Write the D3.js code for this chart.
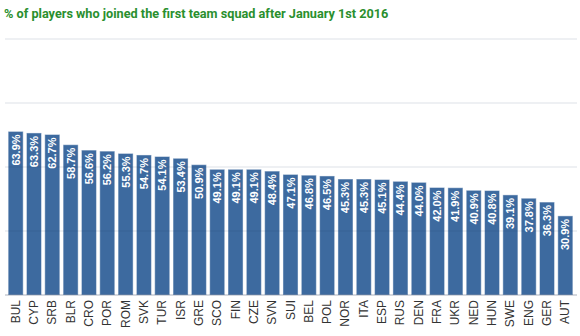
<!DOCTYPE html>
<html>
<head>
<meta charset="utf-8">
<script src="https://cdn.jsdelivr.net/npm/d3@7"></script>
<style>
  html, body { margin: 0; padding: 0; background: #fff; }
  svg { display: block; }
</style>
</head>
<body>
<svg id="chart" width="580" height="336"></svg>
<script>
// Share of players who joined the first team squad after 1 Jan 2016, by league
const countries = ["BUL","CYP","SRB","BLR","CRO","POR","ROM","SVK","TUR","ISR","GRE","SCO","FIN","CZE","SVN","SUI","BEL","POL","NOR","ITA","ESP","RUS","DEN","FRA","UKR","NED","HUN","SWE","ENG","GER","AUT"];
const shares = [63.9,63.3,62.7,58.7,56.6,56.2,55.3,54.7,54.1,53.4,50.9,49.1,49.1,49.1,48.4,47.1,46.8,46.5,45.3,45.3,45.1,44.4,44.0,42.0,41.9,40.9,40.8,39.1,37.8,36.3,30.9];
const gridValues = [0, 25, 50, 75, 100];
const titleText = "% of players who joined the first team squad after January 1st 2016";

const svg = d3.select("#chart");

const x = d3.scaleBand()
  .domain(countries)
  .range([6.5, 574.5])
  .paddingInner(0.18)
  .paddingOuter(0.09);

const y = d3.scaleLinear()
  .domain([0, 100])
  .range([295, 39]);

// title
svg.append("text")
  .attr("x", 4)
  .attr("y", 18)
  .attr("fill", "#2a8f2e")
  .attr("font-family", "Roboto, 'Liberation Sans', sans-serif")
  .attr("font-weight", "bold")
  .attr("font-size", 12.7)
  .text(titleText);

// bars
svg.append("g")
  .selectAll("rect")
  .data(countries)
  .join("rect")
  .attr("x", d => x(d))
  .attr("width", x.bandwidth())
  .attr("y", (d, i) => y(shares[i]))
  .attr("height", (d, i) => y(0) - y(shares[i]))
  .attr("fill", "#3d6a9f")
  .attr("stroke", "rgba(255,255,255,0.45)")
  .attr("stroke-width", 1);

// horizontal grid drawn over the bars
svg.append("g")
  .selectAll("line")
  .data(gridValues)
  .join("line")
  .attr("x1", 5)
  .attr("x2", 577)
  .attr("y1", d => y(d))
  .attr("y2", d => y(d))
  .attr("stroke", d => d === 0 ? "rgba(30,50,80,0.25)" : "rgba(30,60,100,0.1)")
  .attr("stroke-width", 1.5);

// value labels inside the bars
svg.append("g")
  .selectAll("text")
  .data(countries)
  .join("text")
  .attr("transform", (d, i) => `translate(${x(d) + x.bandwidth() / 2},${y(shares[i]) + 3}) rotate(-90)`)
  .attr("text-anchor", "end")
  .attr("dominant-baseline", "central")
  .attr("fill", "#fff")
  .attr("font-family", "'Liberation Sans', Arial, sans-serif")
  .attr("font-weight", "bold")
  .attr("font-size", 11)
  .text((d, i) => shares[i].toFixed(1) + "%");

// category labels
svg.append("g")
  .selectAll("text")
  .data(countries)
  .join("text")
  .attr("transform", d => `translate(${x(d) + x.bandwidth() / 2},300) rotate(-90)`)
  .attr("text-anchor", "end")
  .attr("dominant-baseline", "central")
  .attr("fill", "#333")
  .attr("font-family", "'Liberation Sans', Arial, sans-serif")
  .attr("font-size", 12)
  .text(d => d);
</script>
</body>
</html>
